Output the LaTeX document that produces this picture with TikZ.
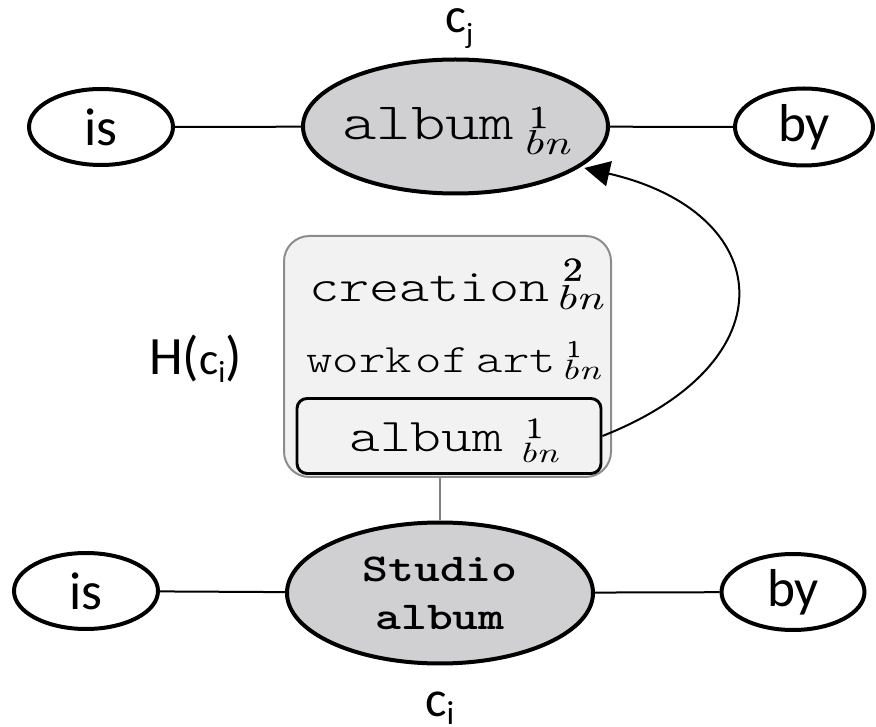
\documentclass[tikz,border=0pt]{standalone}
\usepackage{fontspec}
\usetikzlibrary{shapes.geometric,arrows.meta}

\newfontfamily\monow{lmmonolt10-regular.otf}[FakeStretch=1.25]
\newfontfamily\monobold{lmmonolt10-bold.otf}[FakeStretch=1.25]
\newfontfamily\idxdigit{lmroman10-regular.otf}[FakeStretch=1.2, FakeBold=1]
\newfontfamily\idxital{lmroman10-italic.otf}[FakeStretch=1.35]
\newfontfamily\calib{Carlito}

\definecolor{conceptgray}{RGB}{208,207,209}
\definecolor{boxfill}{RGB}{242,242,242}
\definecolor{boxborder}{RGB}{140,140,140}
\definecolor{stemgray}{RGB}{128,128,128}

\newdimen\pxu \pxu=0.75pt
\newcommand\setfs[1]{\fontsize{#1}{#1}\selectfont}
% sense index: #1 digit, #2 digit size, #3 digit raise, #4 "bn" size, #5 "bn" drop, #6 gap
\newcommand\senseidx[6]{\hspace{#6}%
  \rlap{\idxdigit\setfs{#2}\hspace{0.22em}\raisebox{#3}{#1}}%
  \raisebox{-#5}{\idxital\setfs{#4}bn}}

\begin{document}
\begin{tikzpicture}[x=0.75pt,y=-0.75pt,
  concept/.style={ellipse, draw, line width=3pt, fill=conceptgray, inner sep=0pt},
  relation/.style={ellipse, draw, line width=3pt, fill=white, inner sep=0pt,
    font=\calib\setfs{40pt}},
  link/.style={line width=1.5pt},
  stem/.style={line width=1.5pt, draw=stemgray},
  hypbox/.style={rectangle, rounded corners=19pt, draw=boxborder, line width=1.5pt,
    fill=boxfill, inner sep=0pt},
  sensebox/.style={rectangle, rounded corners=7.5pt, draw=black, line width=2.2pt,
    fill=boxfill, inner sep=0pt},
  txt/.style={inner sep=0pt, anchor=base west},
  hyperarc/.style={line width=1.5pt, -{Triangle[length=19pt,width=19pt]}, shorten >=3pt}]

\useasboundingbox (0,0) rectangle (876,727);

% top concept and its relations
\node[concept, minimum width=305\pxu, minimum height=134\pxu] (cj) at (455.5,126.5) {};
\node[relation, minimum width=144\pxu, minimum height=76\pxu] (isT) at (101,127) {is};
\node[relation, minimum width=138\pxu, minimum height=77\pxu] (byT) at (804,127) {by};
\draw[link] (isT) -- (cj);
\draw[link] (cj) -- (byT);
\node[txt, font=\monow\setfs{39.3pt}] (cjword) at (342,140)
  {album\senseidx{1}{24pt}{9pt}{26pt}{11pt}{6pt}};
\node[txt, font=\calib] (cjname) at (445,33)
  {\setfs{37pt}c\raisebox{-8pt}{\setfs{22pt}j}};

% hypernym box
\node[hypbox, minimum width=327\pxu, minimum height=241\pxu] (hyp) at (447.5,356.5) {};
\node[sensebox, minimum width=304\pxu, minimum height=75\pxu] (sense) at (449,436) {};
\node[txt, font=\monow\setfs{34.4pt}] (creation) at (309,302)
  {creation\senseidx{2}{25pt}{16pt}{26pt}{6pt}{4pt}};
\node[txt, font=\monow\setfs{30.2pt}] (workofart) at (306,373)
  {work\hspace{3pt}of\hspace{6pt}art\senseidx{1}{18pt}{12pt}{21pt}{5pt}{4pt}};
\node[txt, font=\monow\setfs{35.2pt}] (album) at (349,452)
  {album\senseidx{1}{22pt}{10.5pt}{21pt}{8pt}{12pt}};
\node[txt, font=\calib] (hname) at (149,375)
  {\setfs{40.5pt}H(\setfs{34pt}c\raisebox{-6pt}{\setfs{23pt}i}\setfs{40.5pt})};

% bottom concept and its relations
\node[concept, minimum width=306\pxu, minimum height=141\pxu, align=center,
  font=\monobold\fontsize{29.6pt}{36pt}\selectfont] (ci) at (440,593) {Studio\\album};
\node[relation, minimum width=144\pxu, minimum height=76\pxu] (isB) at (86,591) {is};
\node[relation, minimum width=143\pxu, minimum height=76\pxu] (byB) at (793,592) {by};
\draw[link] (isB) -- (ci);
\draw[link] (ci) -- (byB);
\node[txt, font=\calib] (ciname) at (425,716)
  {\setfs{38pt}c\raisebox{-6pt}{\setfs{25pt}i}};

% links between the layers
\draw[stem] (ci.north) -- (ci.north |- hyp.south);
\draw[hyperarc] (sense.east) .. controls +(190,-75) and +(195,45) .. (cj.-18);

\end{tikzpicture}
\end{document}
